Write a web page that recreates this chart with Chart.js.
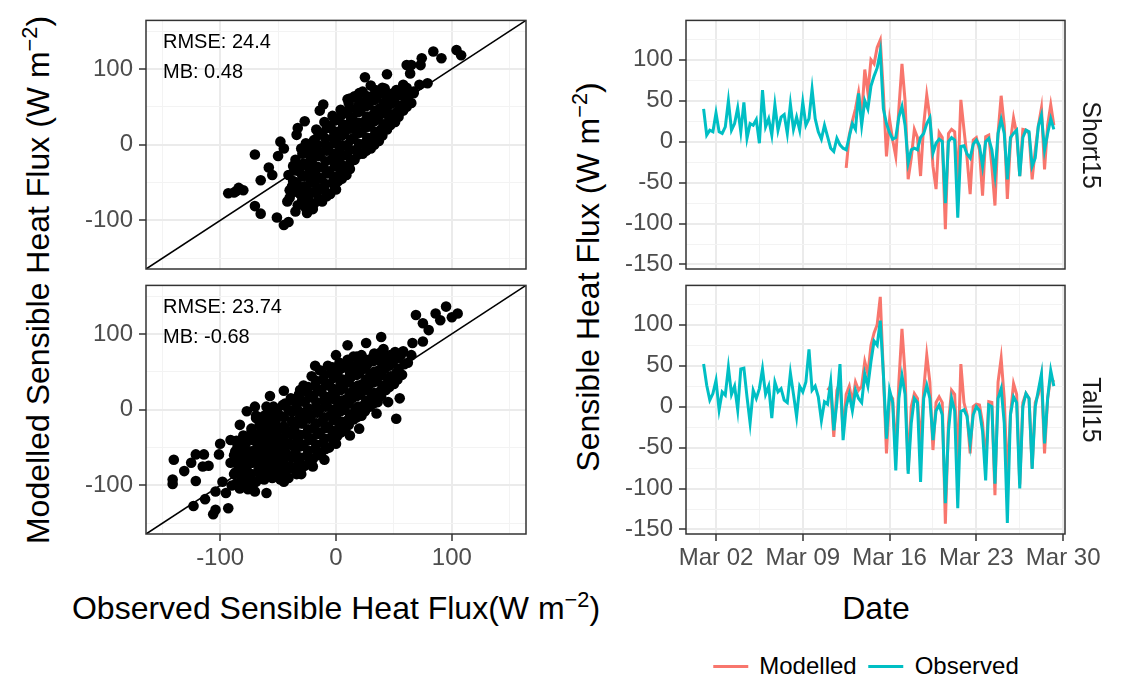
<!DOCTYPE html>
<html>
<head>
<meta charset="utf-8">
<script src="https://cdn.jsdelivr.net/npm/chart.js@4.4.0/dist/chart.umd.min.js"></script>
<style>
  body { margin: 0; background: #fff; width: 1138px; height: 684px; position: relative; overflow: hidden;
         font-family: "Liberation Sans", Arial, Helvetica, sans-serif; }
  canvas { position: absolute; }
  .lbl { position: absolute; white-space: nowrap; line-height: 1; color: #000; transform: translate(0, -50%); }
  .title { font-size: 32px; transform: translate(-50%, -50%); }
  .rot { transform: translate(-50%, -50%) rotate(-90deg); }
  .strip { font-size: 25px; color: #1A1A1A; transform: translate(-50%, -50%) rotate(90deg); }
  .note { font-size: 20px; }
  sup { font-size: 0.68em; vertical-align: 0.55em; line-height: 0; }
  #legend { position: absolute; left: 866px; top: 666px; transform: translate(-50%, -50%);
            display: flex; align-items: center; font-size: 24px; white-space: nowrap; }
  #legend .key { width: 35px; height: 3px; margin-right: 11px; }
  #legend .item { display: flex; align-items: center; margin-right: 12px; }
</style>
</head>
<body>

<canvas id="sc1" width="460" height="290" style="left:80px; top:0px"></canvas>
<canvas id="sc2" width="460" height="320" style="left:80px; top:265px"></canvas>
<canvas id="ts1" width="500" height="290" style="left:620px; top:0px"></canvas>
<canvas id="ts2" width="500" height="320" style="left:620px; top:265px"></canvas>

<div class="lbl note" style="left:163px; top:41px">RMSE: 24.4</div>
<div class="lbl note" style="left:163px; top:71px">MB: 0.48</div>
<div class="lbl note" style="left:163px; top:306px">RMSE: 23.74</div>
<div class="lbl note" style="left:163px; top:336px">MB: -0.68</div>

<div class="lbl title rot" style="left:38px; top:280px">Modelled Sensible Heat Flux (W m<sup>−2</sup>)</div>
<div class="lbl title" style="left:336px; top:608px">Observed Sensible Heat Flux(W m<sup>−2</sup>)</div>
<div class="lbl title rot" style="left:588px; top:277px">Sensible Heat Flux (W m<sup>−2</sup>)</div>
<div class="lbl title" style="left:876px; top:608px">Date</div>

<div class="lbl strip" style="left:1091px; top:145px">Short15</div>
<div class="lbl strip" style="left:1091px; top:410px">Tall15</div>

<div id="legend">
  <div class="item"><div class="key" style="background:#F8766D"></div>Modelled</div>
  <div class="item" style="margin-right:0"><div class="key" style="background:#00BFC4"></div>Observed</div>
</div>

<script>
// ---- data ----------------------------------------------------------------

// scatter: [observed, modelled] pairs, W m-2
const shortPairs = [
  [-93,-64],[-88,-63],[-84,-57],[-86,-61],[-80,-60],[-70,-13],[-65,-47],[-70,-81],[-65,-91],
  [-51,-96],[-45,-106],[-41,-102],[-48,4],[-34,13],[-27,31],[-33,22],[-11,53],[-14,45],
  [25,89],[44,93],[61,105],[65,105],[74,114],[84,123],[91,114],[73,105],[64,94],[104,125],
  [108,118],[72,79],[79,81],[58,79],[61,68],[67,70],[0,-59],[5,-45],[-20,-85],[-30,-78],
  [-55,-40],[-58,-30],[-50,-15],[-45,-5],[-40,-60],[-42,-75],[-35,-88],[-25,-90],[10,60],[20,68],[12,61],
  [-40,-70],[-38,-55],[-41,-40],[-37,-28],
  [-33,-80],[-31,-65],[-34,-50],[-32,-35],[-35,-20],[-30,-5],
  [-26,-84],[-24,-70],[-27,-55],[-25,-40],[-28,-25],[-23,-10],[-26,2],
  [-19,-78],[-17,-64],[-20,-50],[-18,-36],[-21,-22],[-16,-8],[-19,6],[-17,20],
  [-12,-75],[-10,-60],[-13,-45],[-11,-30],[-14,-15],[-9,0],[-12,15],[-10,30],
  [-5,-65],[-3,-50],[-6,-35],[-4,-20],[-7,-5],[-2,10],[-5,25],[-3,38],
  [2,-48],[4,-35],[1,-22],[3,-8],[0,6],[5,20],[2,34],[4,46],
  [9,-40],[11,-27],[8,-14],[10,0],[7,14],[12,28],[9,42],[11,55],
  [16,-20],[18,-6],[15,8],[17,22],[14,36],[19,50],[16,64],
  [23,-12],[25,2],[22,16],[24,30],[21,44],[26,58],[23,70],
  [30,-5],[32,10],[29,24],[31,38],[28,52],[33,66],[30,78],
  [37,5],[39,20],[36,34],[38,48],[35,62],[40,75],
  [44,20],[46,34],[43,48],[45,62],[42,74],
  [51,30],[53,44],[50,58],[52,72],
  [58,45],[60,58],[57,72],
  [65,55],[67,68],
  [-36,-62],[-37,-48],[-36,-34],
  [-29,-72],[-30,-57],[-29,-42],[-30,-28],[-29,-12],
  [-22,-77],[-23,-62],[-22,-47],[-23,-32],[-22,-17],[-23,-4],
  [-15,-71],[-16,-57],[-15,-43],[-16,-29],[-15,-15],[-16,0],[-15,13],
  [-8,-68],[-9,-52],[-8,-38],[-9,-22],[-8,-8],[-9,8],[-8,22],
  [-1,-57],[-2,-42],[-1,-28],[-2,-12],[-1,2],[-2,18],[-1,32],
  [5,-42],[6,-28],[5,-15],[6,-1],[5,13],[6,27],[5,40],
  [12,-32],[13,-20],[12,-7],[13,7],[12,21],[13,35],[12,48],
  [19,-13],[20,1],[19,15],[20,29],[19,43],[20,57],
  [26,-8],[27,9],[26,23],[27,37],[26,51],[27,64],
  [33,0],[34,17],[33,31],[34,45],[33,59],[34,72],
  [40,12],[41,27],[40,41],[41,55],[40,68],
  [47,26],[48,40],[47,54],[48,67],
  [54,37],[55,51],[54,65],
  [61,50],[62,63],[61,75]
];

const tallPairs = [
  [-140,-66],[-141,-92],[-141,-98],[-131,-81],[-121,-59],[-114,-59],[-121,-94],[-123,-127],
  [-113,-118],[-106,-138],[-104,-132],[-93,-130],[-104,-108],[-110,-74],[-101,-59],[-91,-40],
  [-84,-42],[-83,-20],[-77,-2],[-70,4],[-54,4],[-69,-11],[52,-12],[12,-34],[69,125],[75,114],
  [86,127],[95,136],[105,127],[90,118],[75,90],[66,88],[58,77],[39,96],[26,88],[80,105],
  [100,122],[-98,-95],[-95,-110],[-115,-75],[-125,-70],[-60,-110],[-70,-108],[-45,-95],
  [-30,-85],[-100,-45],[-20,-75],[-10,-66],[0,-45],[20,-25],[35,-5],[45,10],[55,15],[62,62],
  [65,72],[10,85],[0,72],[-18,58],[-45,25],[-57,18],[-88,-60],
  [-90,-100],[-88,-85],[-91,-70],
  [-83,-104],[-81,-90],[-84,-76],[-82,-62],[-85,-48],[-80,-34],
  [-76,-105],[-74,-90],[-77,-75],[-75,-60],[-78,-45],[-73,-30],
  [-69,-95],[-67,-80],[-70,-65],[-68,-50],[-71,-35],[-66,-20],[-69,-8],
  [-62,-92],[-60,-78],[-63,-64],[-61,-50],[-64,-36],[-59,-22],[-62,-8],[-60,4],
  [-55,-90],[-53,-76],[-56,-62],[-54,-48],[-57,-34],[-52,-20],[-55,-6],
  [-48,-92],[-46,-78],[-49,-64],[-47,-50],[-50,-36],[-45,-22],[-48,-8],[-46,6],
  [-41,-90],[-39,-75],[-42,-60],[-40,-45],[-43,-30],[-38,-15],[-41,0],[-39,15],
  [-34,-85],[-32,-70],[-35,-55],[-33,-40],[-36,-25],[-31,-10],[-34,5],[-32,20],
  [-27,-74],[-25,-60],[-28,-46],[-26,-32],[-29,-18],[-24,-4],[-27,10],[-25,24],[-28,32],
  [-20,-65],[-18,-52],[-21,-38],[-19,-24],[-22,-10],[-17,4],[-20,18],[-18,32],[-21,44],
  [-13,-57],[-11,-44],[-14,-30],[-12,-16],[-15,-2],[-10,12],[-13,26],[-11,40],[-14,52],
  [-6,-50],[-4,-36],[-7,-22],[-5,-8],[-8,6],[-3,20],[-6,34],[-4,48],[-7,58],
  [1,-35],[3,-22],[0,-8],[2,6],[-1,20],[4,34],[1,48],[3,62],
  [8,-28],[10,-14],[7,0],[9,14],[6,28],[11,42],[8,56],[10,66],
  [15,-13],[17,1],[14,15],[16,29],[13,43],[18,57],[15,70],
  [22,-8],[24,6],[21,20],[23,34],[20,48],[25,62],[22,72],
  [29,4],[31,18],[28,32],[30,46],[27,60],[32,70],
  [36,10],[38,24],[35,38],[37,52],[34,66],[39,76],
  [43,26],[45,40],[42,54],[44,68],[41,80],
  [50,34],[52,48],[49,62],[51,76],
  [57,46],[59,60],[56,72],
  [-86,-97],[-87,-83],[-86,-69],[-87,-55],[-86,-41],
  [-79,-98],[-80,-83],[-79,-68],[-80,-53],[-79,-38],
  [-72,-100],[-73,-85],[-72,-70],[-73,-55],[-72,-40],[-73,-25],
  [-65,-86],[-66,-72],[-65,-57],[-66,-43],[-65,-29],[-66,-14],
  [-58,-84],[-59,-70],[-58,-56],[-59,-42],[-58,-28],[-59,-14],[-58,-1],
  [-51,-85],[-52,-70],[-51,-56],[-52,-42],[-51,-28],[-52,-14],[-51,0],
  [-44,-84],[-45,-70],[-44,-55],[-45,-40],[-44,-25],[-45,-10],[-44,8],
  [-37,-78],[-38,-63],[-37,-48],[-38,-33],[-37,-18],[-38,-3],[-37,12],
  [-30,-78],[-31,-63],[-30,-48],[-31,-33],[-30,-18],[-31,-3],[-30,12],[-31,26],
  [-23,-68],[-24,-54],[-23,-40],[-24,-26],[-23,-12],[-24,2],[-23,16],[-24,30],
  [-16,-60],[-17,-46],[-16,-32],[-17,-18],[-16,-4],[-17,10],[-16,24],[-17,38],
  [-9,-52],[-10,-38],[-9,-24],[-10,-10],[-9,4],[-10,18],[-9,32],[-10,46],
  [-2,-42],[-3,-28],[-2,-14],[-3,0],[-2,14],[-3,28],[-2,42],[-3,56],
  [4,-30],[5,-16],[4,-2],[5,12],[4,26],[5,40],[4,54],
  [11,-20],[12,-6],[11,8],[12,22],[11,36],[12,50],[11,62],
  [18,-10],[19,4],[18,18],[19,32],[18,46],[19,60],[18,70],
  [25,-2],[26,12],[25,26],[26,40],[25,54],[26,66],
  [32,8],[33,22],[32,36],[33,50],[32,64],[33,74],
  [39,18],[40,32],[39,46],[40,60],[39,72],
  [46,30],[47,44],[46,58],[47,72],
  [53,40],[54,54],[53,68]
];

// time series: 6-hourly values from 1 March 00:00 (day 1.0) to day 29.25, one row per day
const obsShort = [
  40, 8, 14, 12,   35, 12, 10, 18,   50, 14, 22, 41,   12, 48, 4, 22,
  20, 27, -2, 63,  18, 28, 8, 45,    14, 30, 33, 10,   46, 15, 30, 14,
  48, 20, 28, 64,  28, 12, 3, 20,    6, -8, -12, 4,    -4, -8, -10, 6,
  22, 15, 59, 20,  50, 40, 68, 80,   90, 110, 40, 22,  11, 3, 5, 30,
  43, 20, -26, -10, -8, -10, 5, 10,  22, 29, -14, -2,  3, 0, -75, 0,
  5, 2, -93, -6,   -5, -15, -20, -3, 2, -5, -30, 0,    4, -10, -40, 10,
  27, 10, -46, 5,  10, 14, -42, 5,   14, 12, -30, -20, 19, 32, -10, 10,
  28, 15
];
const modShort = [
  null, null, null, null, null, null, null, null, null, null, null, null,
  null, null, null, null, null, null, null, null, null, null, null, null,
  null, null, null, null, null, null, null, null, null, null, null, null,
  null, null, null, null, null, null, null, null, null, null,
  -32, 8,
  25, 40, 60, 30,  88, 60, 100, 95,  115, 124, 60, -18, 27, 2, -18, 40,
  95, 50, -46, -20, 15, 5, -42, 20,  57, 30, -30, -58, 11, 5, -107, 10,
  15, 12, -50, 51, 15, -20, -64, 2,  5, -10, -66, 6,    8, -30, -78, 10,
  56, 20, -70, 0,  29, 10, -42, 15,  14, 10, -46, -10,  19, 41, -34, 20,
  45, 20
];
const obsTall = [
  52, 26, 8, 16,   32, -4, 18, 14,   48, 15, 25, -4,   46, 47, 12, -20,
  20, 10, 22, 46,  15, 25, -14, 30,  18, 22, 8, 5,     41, 15, -12, 25,
  18, 30, 70, 20,  25, 12, -17, 6,   3, 30, -29, 5,    52, -41, 0, 15,
  -5, 20, 10, 5,   40, 25, 55, 80,   75, 105, 40, -39, 20, 5, -78, 10,
  38, 15, -82, -20, 10, 5, -92, 10,  26, 10, -41, -5,  2, -10, -118, -30,
  10, -5, -124, -6, -4, -12, -45, -10, 0, -5, -30, -90, 2, 0, -94, 10,
  22, -20, -142, -10, 12, 5, -100, 0, 16, 10, -76, 0,  20, 40, -45, 10,
  44, 25
];
const modTall = [
  null, null, null, null, null, null, null, null, null, null, null, null,
  null, null, null, null, null, null, null, null, null, null, null, null,
  null, null, null, null, null, null, null, null, null, null, null, null,
  null, null, null, null,
  20, 25, -37, 20, 30, -30, 15, 25,  5, 30, 20, 25,    55, 40, 75, 90,
  100, 134, 40, -57, 15, 10, -60, 30, 95, 40, -78, 0,  16, 10, -49, 20,
  63, 30, -53, 5,  12, 5, -143, -20, 20, 15, -70, 52,  5, -10, -57, 0,
  3, 2, -20, -70,  6, 5, -108, 30,   59, 10, -90, -10, 28, 15, -95, 5,
  16, 10, -75, 5,  15, 36, -57, 10,  36, 30
];
// day of March for each sample (6-hour steps from day 1)
const times = obsShort.map((_, i) => 1 + i * 0.25);

// axis ticks
const fluxTicks = [-100, 0, 100];
const seriesTicks = [-150, -100, -50, 0, 50, 100];
const dateTicks = [2, 9, 16, 23, 30];
const dateLabels = ['Mar 02', 'Mar 09', 'Mar 16', 'Mar 23', 'Mar 30'];

// ---- helpers ---------------------------------------------------------------

const FONT = '"Liberation Sans", Arial, Helvetica, sans-serif';
const tickFont = { family: FONT, size: 24 };

// major ticks plus ggplot-style minor lines halfway between them
function withMinor(major, lo, hi) {
  const step = major[1] - major[0];
  const out = [];
  for (let v = major[0] - step; v <= major[major.length - 1] + step; v += step / 2) {
    if (v >= lo && v <= hi) out.push(v);
  }
  return out;
}

function gridFor(major, showTicks) {
  const isMajor = c => c.tick && major.indexOf(c.tick.value) >= 0;
  return {
    color: c => isMajor(c) ? '#EBEBEB' : '#F3F3F3',
    lineWidth: c => isMajor(c) ? 2 : 1,
    tickColor: c => isMajor(c) ? '#333333' : 'rgba(0,0,0,0)',
    tickWidth: 1.5,
    tickLength: 7,
    drawTicks: showTicks
  };
}

const panelBox = {
  id: 'panelBox',
  afterDraw(chart) {
    const a = chart.chartArea, ctx = chart.ctx;
    ctx.save();
    ctx.strokeStyle = '#333333';
    ctx.lineWidth = 1.5;
    ctx.strokeRect(a.left, a.top, a.right - a.left, a.bottom - a.top);
    ctx.restore();
  }
};

function xAxis(min, max, major, labelFor, showX) {
  return {
    type: 'linear', min: min, max: max,
    afterBuildTicks: s => { s.ticks = withMinor(major, min, max).map(v => ({ value: v })); },
    afterFit: s => { s.height = showX ? 40 : 0; },
    ticks: { display: showX, autoSkip: false, maxRotation: 0, padding: 3, font: tickFont, color: '#4D4D4D',
             callback: v => labelFor(v) },
    grid: gridFor(major, showX),
    border: { display: false }
  };
}

function yAxis(min, max, major) {
  return {
    type: 'linear', min: min, max: max,
    afterBuildTicks: s => { s.ticks = withMinor(major, min, max).map(v => ({ value: v })); },
    afterFit: s => { s.width = 66; },
    ticks: { autoSkip: false, padding: 6, font: tickFont, color: '#4D4D4D',
             callback: v => major.indexOf(v) >= 0 ? String(v) : '' },
    grid: gridFor(major, true),
    border: { display: false }
  };
}

const LIM = 164;

function scatterPanel(id, pairs, showX, pad) {
  new Chart(document.getElementById(id), {
    type: 'scatter',
    data: {
      datasets: [
        { type: 'line', data: [{ x: -LIM, y: -LIM }, { x: LIM, y: LIM }], borderColor: '#000',
          borderWidth: 1.6, pointRadius: 0, order: 0 },
        { data: pairs.map(p => ({ x: p[0], y: p[1] })), backgroundColor: '#000', borderWidth: 0,
          pointRadius: 5.3, order: 1 }
      ]
    },
    options: {
      responsive: false, animation: false, events: [],
      layout: { padding: pad },
      plugins: { legend: { display: false }, tooltip: { enabled: false } },
      scales: {
        x: xAxis(-LIM, LIM, fluxTicks, v => fluxTicks.indexOf(v) >= 0 ? String(v) : '', showX),
        y: yAxis(-LIM, LIM, fluxTicks)
      }
    },
    plugins: [panelBox]
  });
}

function seriesPanel(id, obs, mod, showX, pad) {
  new Chart(document.getElementById(id), {
    type: 'line',
    data: {
      datasets: [
        { label: 'Observed', data: times.map((t, i) => ({ x: t, y: obs[i] })), borderColor: '#00BFC4', order: 0 },
        { label: 'Modelled', data: times.map((t, i) => ({ x: t, y: mod[i] })), borderColor: '#F8766D', order: 1 }
      ]
    },
    options: {
      responsive: false, animation: false, events: [],
      spanGaps: false,
      layout: { padding: pad },
      elements: { point: { radius: 0 }, line: { borderWidth: 3, tension: 0 } },
      plugins: { legend: { display: false }, tooltip: { enabled: false } },
      scales: {
        x: xAxis(-0.42, 30.15, dateTicks, v => {
          const k = dateTicks.indexOf(v);
          return k >= 0 ? dateLabels[k] : '';
        }, showX),
        y: yAxis(-155.5, 148, seriesTicks)
      }
    },
    plugins: [panelBox]
  });
}

scatterPanel('sc1', shortPairs, false, { left: 0, top: 20, right: 14, bottom: 21 });
scatterPanel('sc2', tallPairs, true, { left: 0, top: 20, right: 14, bottom: 11 });
seriesPanel('ts1', obsShort, modShort, false, { left: 0, top: 20, right: 55, bottom: 21 });
seriesPanel('ts2', obsTall, modTall, true, { left: 0, top: 20, right: 55, bottom: 11 });
</script>
</body>
</html>
